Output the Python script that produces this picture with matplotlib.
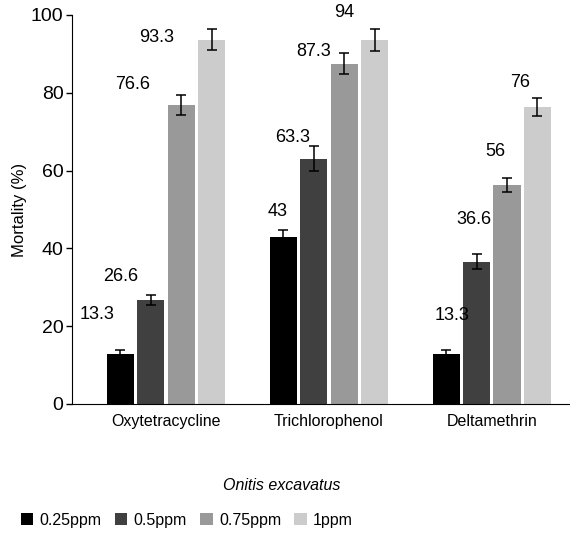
"""Mortality of Onitis excavatus under three chemicals at four doses."""
import numpy as np
import matplotlib.pyplot as plt

plt.rcParams['font.family'] = ['Liberation Sans', 'DejaVu Sans']

chemicals = ['Oxytetracycline', 'Trichlorophenol', 'Deltamethrin']
doses = ['0.25ppm', '0.5ppm', '0.75ppm', '1ppm']
colors = ['#000000', '#404040', '#999999', '#cccccc']

# mortality (%) per dose, one value per chemical (bar heights as drawn)
mort_025 = [12.9, 43.0, 12.9]
mort_05 = [26.8, 63.1, 36.6]
mort_075 = [76.8, 87.4, 56.4]
mort_1 = [93.6, 93.6, 76.3]
err_025 = [1.0, 1.8, 1.0]
err_05 = [1.3, 3.2, 1.9]
err_075 = [2.5, 2.7, 1.8]
err_1 = [2.7, 2.8, 2.3]
# printed value labels
lab_025 = ['13.3', '43', '13.3']
lab_05 = ['26.6', '63.3', '36.6']
lab_075 = ['76.6', '87.3', '56']
lab_1 = ['93.3', '94', '76']

values = [mort_025, mort_05, mort_075, mort_1]
errors = [err_025, err_05, err_075, err_1]
labels = [lab_025, lab_05, lab_075, lab_1]

# label offsets from bar top (pixels), [dose][chemical]
label_dx = [[-23, -5, 6], [-30, -21, -3], [-48, -30, -12], [-55, -30, -17]]
label_dy = [[39, 25, 38], [23, 21, 42], [21, 12, 33], [2, 27, 25]]

fig = plt.figure(figsize=(5.7, 5.35), dpi=100)
ax = fig.add_axes([0.126, 0.245, 0.874, 0.727])

x = np.arange(len(chemicals))
width = 0.166
step = 0.187
for i, dose in enumerate(doses):
    xs = x + (i - 1.5) * step
    ax.bar(xs, values[i], width, color=colors[i], label=dose, zorder=2)
    ax.errorbar(xs, values[i], yerr=errors[i], fmt='none', ecolor='black',
                elinewidth=1.1, capsize=3.5, capthick=1.1, zorder=3)
    for j in range(len(chemicals)):
        ax.annotate(labels[i][j], (xs[j], values[i][j]),
                    xytext=(label_dx[i][j] * 0.72, label_dy[i][j] * 0.72),
                    textcoords='offset points', ha='center', va='center',
                    fontsize=13)

ax.set_xlim(-0.577, 2.48)
ax.set_ylim(0, 100)
ax.set_yticks(range(0, 101, 20))
ax.tick_params(axis='y', labelsize=14, length=4, width=1, pad=2)
ax.set_xticks(x)
ax.set_xticklabels(chemicals, fontsize=11.5)
ax.tick_params(axis='x', length=0, pad=7)
ax.set_ylabel('Mortality (%)', fontsize=12, labelpad=3)
for s in ['top', 'right']:
    ax.spines[s].set_visible(False)

fig.text(0.495, 1 - 485 / 535, 'Onitis excavatus', style='italic',
         fontsize=11.5, ha='center', va='center')
fig.legend(loc='center left', bbox_to_anchor=(0.025, 1 - 520 / 535), ncol=4,
           frameon=False, fontsize=11.5, handlelength=0.8, handleheight=0.8,
           handletextpad=0.4, columnspacing=0.8, borderaxespad=0)

plt.savefig('out.png', dpi=100)
plt.close()
